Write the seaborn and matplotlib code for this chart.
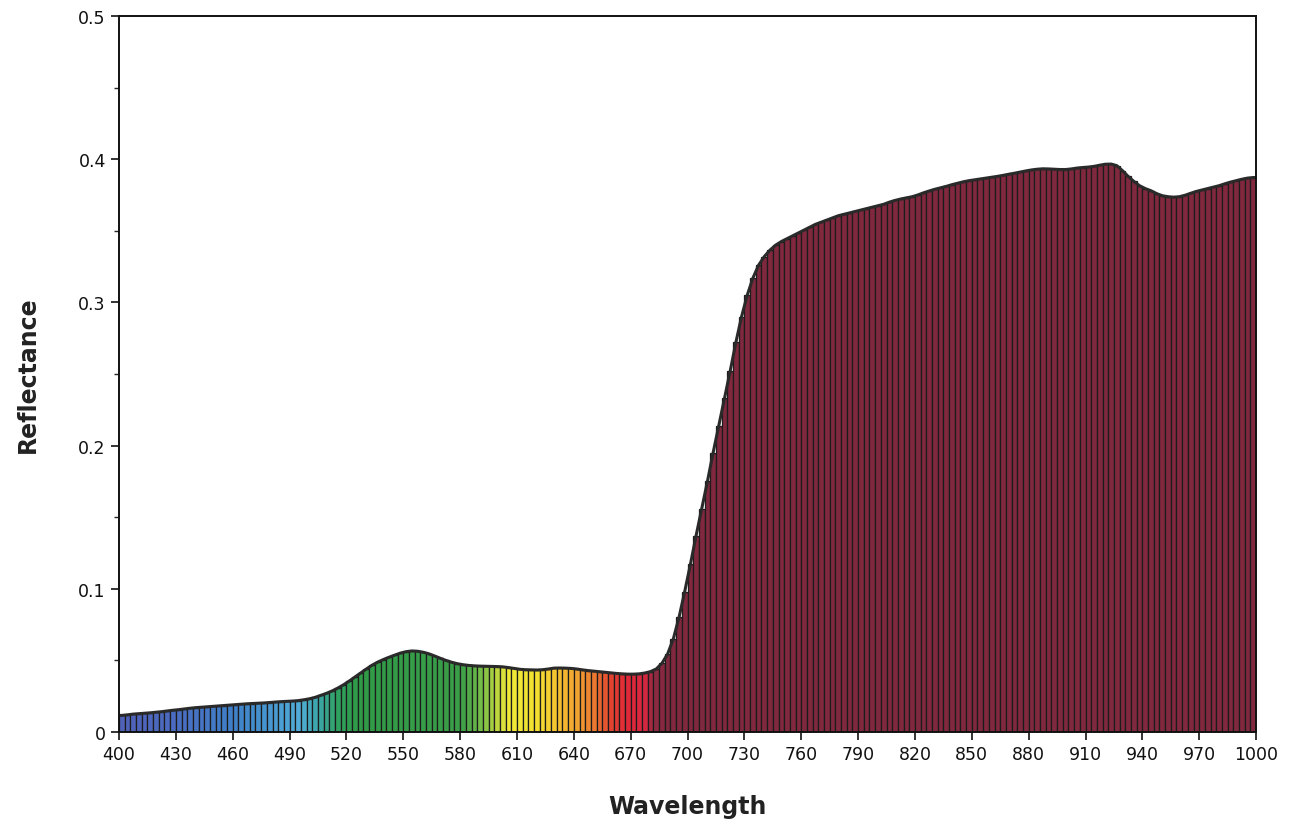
import numpy as np
import matplotlib
matplotlib.use("Agg")
import matplotlib.pyplot as plt
from matplotlib.colors import to_rgb
import seaborn as sns

# Leaf reflectance spectrum, one bar per 3 nm band (400–1000 nm)
band_start = np.arange(400, 1000, 3)
band_width = 3
reflectance = [
    0.0116, 0.0120, 0.0125, 0.0128, 0.0131, 0.0134, 0.0138, 0.0142, 0.0147, 0.0152,
    0.0156, 0.0161, 0.0166, 0.0170, 0.0173, 0.0176, 0.0179, 0.0182, 0.0185, 0.0188,
    0.0191, 0.0194, 0.0197, 0.0199, 0.0201, 0.0203, 0.0206, 0.0209, 0.0212, 0.0214,
    0.0216, 0.0219, 0.0225, 0.0232, 0.0242, 0.0256, 0.0270, 0.0287, 0.0307, 0.0330,
    0.0356, 0.0384, 0.0412, 0.0440, 0.0466, 0.0488, 0.0506, 0.0522, 0.0537, 0.0551,
    0.0561, 0.0566, 0.0564, 0.0557, 0.0546, 0.0531, 0.0515, 0.0500, 0.0487, 0.0477,
    0.0470, 0.0465, 0.0462, 0.0460, 0.0459, 0.0458, 0.0457, 0.0455, 0.0450, 0.0444,
    0.0438, 0.0435, 0.0434, 0.0433, 0.0435, 0.0440, 0.0446, 0.0447, 0.0446, 0.0444,
    0.0440, 0.0434, 0.0429, 0.0425, 0.0421, 0.0417, 0.0413, 0.0409, 0.0406, 0.0404,
    0.0404, 0.0406, 0.0412, 0.0422, 0.0440, 0.0480, 0.0545, 0.0650, 0.0800, 0.0980,
    0.1170, 0.1370, 0.1560, 0.1750, 0.1950, 0.2140, 0.2330, 0.2520, 0.2720, 0.2900,
    0.3050, 0.3170, 0.3260, 0.3320, 0.3365, 0.3400, 0.3425, 0.3445, 0.3465, 0.3485,
    0.3505, 0.3525, 0.3545, 0.3560, 0.3575, 0.3590, 0.3605, 0.3615, 0.3625, 0.3635,
    0.3645, 0.3655, 0.3665, 0.3675, 0.3685, 0.3700, 0.3712, 0.3722, 0.3730, 0.3738,
    0.3750, 0.3765, 0.3778, 0.3790, 0.3800, 0.3810, 0.3822, 0.3832, 0.3842, 0.3850,
    0.3856, 0.3862, 0.3868, 0.3874, 0.3880, 0.3887, 0.3895, 0.3902, 0.3910, 0.3918,
    0.3925, 0.3930, 0.3933, 0.3932, 0.3930, 0.3928, 0.3928, 0.3932, 0.3938, 0.3942,
    0.3945, 0.3950, 0.3958, 0.3965, 0.3966, 0.3955, 0.3920, 0.3880, 0.3845, 0.3815,
    0.3795, 0.3780, 0.3760, 0.3745, 0.3738, 0.3735, 0.3738, 0.3748, 0.3762, 0.3775,
    0.3785, 0.3795, 0.3805, 0.3815, 0.3828, 0.3840, 0.3850, 0.3860, 0.3868, 0.3872,
]
assert len(reflectance) == len(band_start)

x_ticks = list(range(400, 1001, 30))
y_ticks = [0, 0.1, 0.2, 0.3, 0.4, 0.5]
y_tick_labels = ["0", "0.1", "0.2", "0.3", "0.4", "0.5"]

# Colour stops used to tint each band like the visible spectrum
stop_nm = [400, 430, 460, 480, 495, 505, 515, 525, 580, 590, 598, 605, 620,
           632, 642, 652, 660, 668, 677, 682, 690, 1000]
stop_hex = ["#5060b8", "#4a6cc0", "#3f80c8", "#4898d0", "#52acd8", "#3aa6a8",
            "#30a062", "#2f9a48", "#3a9e48", "#70bb48", "#b0d040", "#f0e838",
            "#f2e030", "#f5c030", "#f0a030", "#ea7030", "#e04030", "#e02838",
            "#d82840", "#8e2a42", "#80283e", "#80283e"]


def band_colour(nm):
    rgb = np.array([to_rgb(c) for c in stop_hex])
    return tuple(np.interp(nm, stop_nm, rgb[:, k]) for k in range(3))


sns.set_style("ticks")
plt.rcParams["font.family"] = ["DejaVu Sans"]

fig = plt.figure(figsize=(13.05, 8.29), dpi=100)
ax = fig.add_axes([0.0912, 0.1158, 0.8713, 0.8637])

centres = band_start + band_width / 2
sns.barplot(x=centres, y=reflectance, native_scale=True, width=1.0,
            errorbar=None, color="#80283e", edgecolor="#1c1c1c",
            linewidth=0.9, ax=ax)
for patch, c in zip(ax.patches, centres):
    patch.set_facecolor(band_colour(c))

# Dark outline traced through the tops of the bars
outline_x = [band_start[0]] + list(centres) + [band_start[-1] + band_width]
outline_y = [reflectance[0]] + list(reflectance) + [reflectance[-1]]
sns.lineplot(x=outline_x, y=outline_y, color="#2a2a2a", linewidth=2.2, ax=ax)

ax.set_xlim(400, 1000)
ax.set_ylim(0, 0.5)
ax.set_xticks(x_ticks)
ax.set_xticklabels([str(t) for t in x_ticks])
ax.set_yticks(y_ticks)
ax.set_yticklabels(y_tick_labels)
ax.set_yticks(np.arange(0.05, 0.5, 0.1), minor=True)

ax.tick_params(axis="both", which="major", direction="out", length=6,
               width=1.2, labelsize=12.5, colors="#111111")
ax.tick_params(axis="y", which="minor", direction="out", length=3.5, width=1.0)
for side in ["left", "right", "top", "bottom"]:
    ax.spines[side].set_visible(True)
    ax.spines[side].set_linewidth(1.4)
    ax.spines[side].set_color("#111111")

ax.set_xlabel("Wavelength", fontsize=17, fontweight="bold", labelpad=22,
              color="#222222")
ax.set_ylabel("Reflectance", fontsize=17, fontweight="bold", labelpad=28,
              color="#222222")

fig.savefig("out.png", dpi=100)
